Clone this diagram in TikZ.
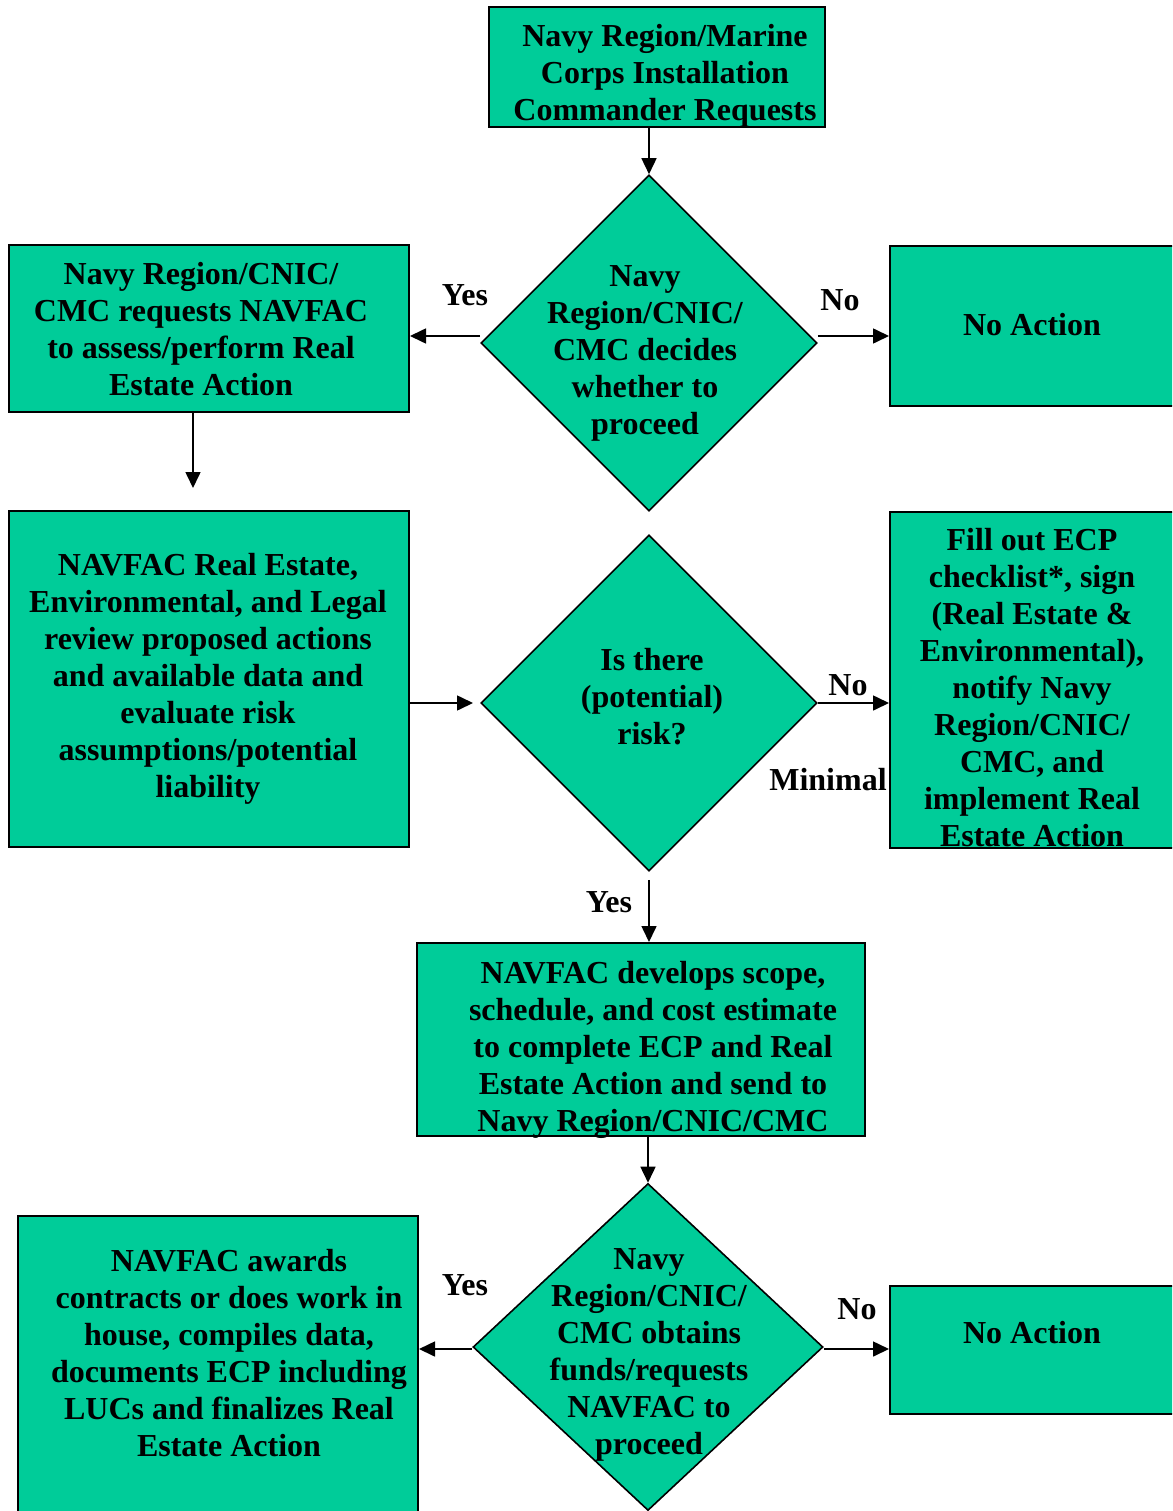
\documentclass[tikz,border=0pt]{standalone}
\usepackage{fontspec}
\setmainfont{Liberation Serif}
\usetikzlibrary{shapes.geometric,arrows.meta}
\definecolor{boxgreen}{HTML}{00CC99}
\begin{document}
\begin{tikzpicture}[x=1pt,y=-1pt,
  box/.style={draw=black,line width=2pt,fill=boxgreen,rectangle,inner sep=0pt},
  dia/.style={draw=black,line width=1.6pt,fill=boxgreen,diamond,inner sep=0pt},
  txt/.style={align=center,inner sep=0pt,font=\bfseries\fontsize{32}{37}\selectfont},
  lbl/.style={inner sep=0pt,font=\bfseries\fontsize{32}{37}\selectfont},
  arr/.style={line width=1.6pt,-{Triangle[length=16pt,width=15pt]}}]
\useasboundingbox (0,0) rectangle (1172,1511);
\clip (0,0) rectangle (1172,1511);
% boxes
\node[box,minimum width=336pt,minimum height=120pt] (top) at (657,67) {};
\node[box,minimum width=400pt,minimum height=167pt] (b1) at (209,328.5) {};
\node[box,minimum width=300pt,minimum height=160pt,anchor=north west] (na1) at (889,245) {};
\node[box,minimum width=400pt,minimum height=336pt] (b2) at (209,679) {};
\node[box,minimum width=300pt,minimum height=336pt,anchor=north west] (b2r) at (889,511) {};
\node[box,minimum width=448pt,minimum height=193pt] (b3) at (641,1039.5) {};
\node[box,minimum width=400pt,minimum height=330pt,anchor=north west] (b4) at (17,1215) {};
\node[box,minimum width=300pt,minimum height=128pt,anchor=north west] (na3) at (889,1285) {};
% diamonds
\node[dia,minimum width=336pt,minimum height=336pt] (d1) at (649,343) {};
\node[dia,minimum width=336pt,minimum height=336pt] (d2) at (649,703) {};
\node[dia,minimum width=350pt,minimum height=327pt] (d3) at (648,1347) {};
% texts
\node[txt] at (665,76) {Navy Region/Marine\\Corps Installation\\Commander Requests};
\node[txt] at (201,329) {Navy Region/CNIC/\\CMC requests NAVFAC\\to assess/perform Real\\Estate Action};
\node[txt] at (645,353) {Navy\\Region/CNIC/\\CMC decides\\whether to\\proceed};
\node[txt] at (1032,325) {No Action};
\node[txt] at (208,679) {NAVFAC Real Estate,\\Environmental, and Legal\\review proposed actions\\and available data and\\evaluate risk\\assumptions/potential\\liability};
\node[txt] at (652,697) {Is there\\(potential)\\risk?};
\node[txt] at (1032,688) {Fill out ECP\\checklist*, sign\\(Real Estate \&\\Environmental),\\notify Navy\\Region/CNIC/\\CMC, and\\implement Real\\Estate Action};
\node[txt] at (653,1050) {NAVFAC develops scope,\\schedule, and cost estimate\\to complete ECP and Real\\Estate Action and send to\\Navy Region/CNIC/CMC};
\node[txt] at (649,1355) {Navy\\Region/CNIC/\\CMC obtains\\funds/requests\\NAVFAC to\\proceed};
\node[txt] at (229,1353) {NAVFAC awards\\contracts or does work in\\house, compiles data,\\documents ECP including\\LUCs and finalizes Real\\Estate Action};
\node[txt] at (1032,1333) {No Action};
% labels
\node[lbl] at (465,295) {Yes};
\node[lbl] at (840,300) {No};
\node[lbl] at (848,685) {No};
\node[lbl] at (828,780) {Minimal};
\node[lbl] at (609,902) {Yes};
\node[lbl] at (465,1285) {Yes};
\node[lbl] at (857,1309) {No};
% free ends and levels
\coordinate (e1) at (193,488);
\coordinate (e2) at (473,703);
\coordinate (y1) at (0,336);
\coordinate (y3) at (0,1349);
% connectors
\draw[arr] (d1.north |- top.south) -- (d1.north);
\draw[arr] (d1.west |- y1) -- (b1.east |- y1);
\draw[arr] (d1.east |- y1) -- (na1.west |- y1);
\draw[arr] (e1 |- b1.south) -- (e1);
\draw[arr] (b2.east |- e2) -- (e2);
\draw[arr] (d2.east) -- (d2.east -| b2r.west);
\draw[arr,shorten <=8pt] (d2.south) -- (d2.south |- b3.north);
\draw[arr] (d3.north |- b3.south) -- (d3.north);
\draw[arr] (d3.west |- y3) -- (b4.east |- y3);
\draw[arr] (d3.east |- y3) -- (na3.west |- y3);
\end{tikzpicture}
\end{document}
